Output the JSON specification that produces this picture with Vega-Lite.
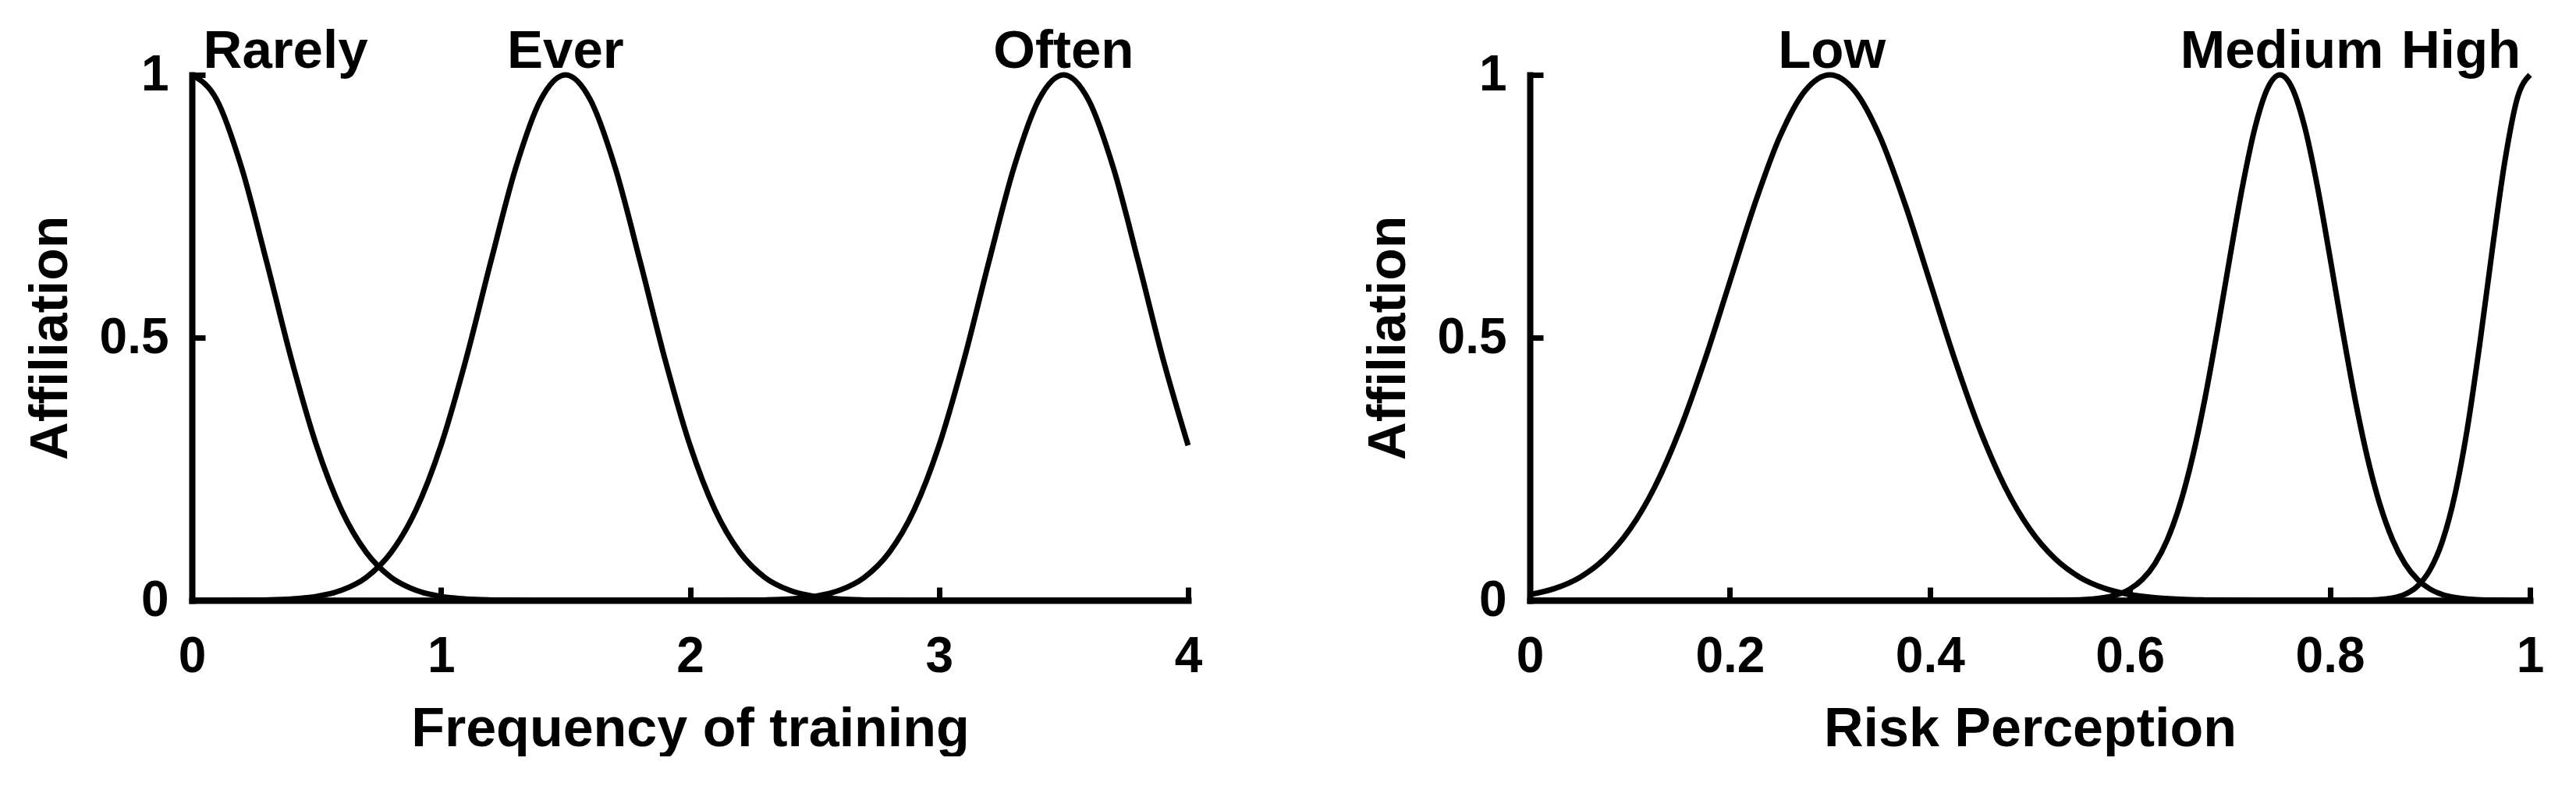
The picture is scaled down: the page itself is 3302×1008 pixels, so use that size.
{
  "$schema": "https://vega.github.io/schema/vega-lite/v6.json",
  "padding": {"left": 31, "top": 32, "right": 0, "bottom": 0},
  "background": "white",
  "config": {
    "view": {"stroke": null},
    "font": "Liberation Sans",
    "axis": {
      "domainColor": "black", "domainWidth": 8, "domainCap": "square",
      "tickColor": "black", "tickWidth": 7, "tickSize": -17,
      "labelFont": "Liberation Sans", "labelFontWeight": "bold",
      "labelFontSize": 64, "labelColor": "black",
      "titleFont": "Liberation Sans", "titleFontWeight": "bold", "titleColor": "black",
      "grid": false, "labelFlush": false, "labelOverlap": false
    },
    "axisX": {"labelPadding": 57, "titlePadding": 27, "titleFontSize": 70},
    "axisY": {"labelPadding": 47, "titlePadding": 28, "titleFontSize": 68}
  },
  "spacing": 205,
  "hconcat": [
    {
      "width": 1277, "height": 674,
      "layer": [
        {
          "data": {"values": [
            {"curve": "Rarely", "x": 0, "y": 1}, {"curve": "Rarely", "x": 0.1, "y": 0.9523}, {"curve": "Rarely", "x": 0.2, "y": 0.8226}, {"curve": "Rarely", "x": 0.3, "y": 0.6444}, {"curve": "Rarely", "x": 0.4, "y": 0.4578}, {"curve": "Rarely", "x": 0.5, "y": 0.295}, {"curve": "Rarely", "x": 0.6, "y": 0.1724}, {"curve": "Rarely", "x": 0.7, "y": 0.0914}, {"curve": "Rarely", "x": 0.8, "y": 0.0439}, {"curve": "Rarely", "x": 0.9, "y": 0.0192}, {"curve": "Rarely", "x": 1.0, "y": 0.0076}, {"curve": "Rarely", "x": 1.1, "y": 0.0027}, {"curve": "Rarely", "x": 1.2, "y": 0.0009}, {"curve": "Rarely", "x": 1.3, "y": 0.0003}, {"curve": "Rarely", "x": 1.5, "y": 0}, {"curve": "Rarely", "x": 2, "y": 0}, {"curve": "Rarely", "x": 3, "y": 0}, {"curve": "Rarely", "x": 4, "y": 0},
            {"curve": "Ever", "x": 0, "y": 0}, {"curve": "Ever", "x": 0.2, "y": 0.0003}, {"curve": "Ever", "x": 0.3, "y": 0.0009}, {"curve": "Ever", "x": 0.4, "y": 0.0027}, {"curve": "Ever", "x": 0.5, "y": 0.0076}, {"curve": "Ever", "x": 0.6, "y": 0.0192}, {"curve": "Ever", "x": 0.7, "y": 0.0439}, {"curve": "Ever", "x": 0.8, "y": 0.0914}, {"curve": "Ever", "x": 0.9, "y": 0.1724}, {"curve": "Ever", "x": 1.0, "y": 0.295}, {"curve": "Ever", "x": 1.1, "y": 0.4578}, {"curve": "Ever", "x": 1.2, "y": 0.6444}, {"curve": "Ever", "x": 1.3, "y": 0.8226}, {"curve": "Ever", "x": 1.4, "y": 0.9523}, {"curve": "Ever", "x": 1.5, "y": 1}, {"curve": "Ever", "x": 1.6, "y": 0.9523}, {"curve": "Ever", "x": 1.7, "y": 0.8226}, {"curve": "Ever", "x": 1.8, "y": 0.6444}, {"curve": "Ever", "x": 1.9, "y": 0.4578}, {"curve": "Ever", "x": 2.0, "y": 0.295}, {"curve": "Ever", "x": 2.1, "y": 0.1724}, {"curve": "Ever", "x": 2.2, "y": 0.0914}, {"curve": "Ever", "x": 2.3, "y": 0.0439}, {"curve": "Ever", "x": 2.4, "y": 0.0192}, {"curve": "Ever", "x": 2.5, "y": 0.0076}, {"curve": "Ever", "x": 2.6, "y": 0.0027}, {"curve": "Ever", "x": 2.7, "y": 0.0009}, {"curve": "Ever", "x": 2.8, "y": 0.0003}, {"curve": "Ever", "x": 3, "y": 0}, {"curve": "Ever", "x": 4, "y": 0},
            {"curve": "Often", "x": 0, "y": 0}, {"curve": "Often", "x": 2, "y": 0}, {"curve": "Often", "x": 2.2, "y": 0.0003}, {"curve": "Often", "x": 2.3, "y": 0.0009}, {"curve": "Often", "x": 2.4, "y": 0.0027}, {"curve": "Often", "x": 2.5, "y": 0.0076}, {"curve": "Often", "x": 2.6, "y": 0.0192}, {"curve": "Often", "x": 2.7, "y": 0.0439}, {"curve": "Often", "x": 2.8, "y": 0.0914}, {"curve": "Often", "x": 2.9, "y": 0.1724}, {"curve": "Often", "x": 3.0, "y": 0.295}, {"curve": "Often", "x": 3.1, "y": 0.4578}, {"curve": "Often", "x": 3.2, "y": 0.6444}, {"curve": "Often", "x": 3.3, "y": 0.8226}, {"curve": "Often", "x": 3.4, "y": 0.9523}, {"curve": "Often", "x": 3.5, "y": 1}, {"curve": "Often", "x": 3.6, "y": 0.9523}, {"curve": "Often", "x": 3.7, "y": 0.8226}, {"curve": "Often", "x": 3.8, "y": 0.6444}, {"curve": "Often", "x": 3.9, "y": 0.4578}, {"curve": "Often", "x": 4.0, "y": 0.295}
          ]},
          "mark": {"type": "line", "color": "black", "strokeWidth": 7, "interpolate": "monotone"},
          "encoding": {
            "x": {"field": "x", "type": "quantitative", "scale": {"domain": [0, 4], "nice": false, "zero": false},
                  "axis": {"values": [0, 1, 2, 3, 4], "format": "~g", "title": "Frequency of training"}},
            "y": {"field": "y", "type": "quantitative", "scale": {"domain": [0, 1], "nice": false},
                  "axis": {"values": [0, 0.5, 1], "format": "~g", "title": "Affiliation"}},
            "detail": {"field": "curve"}
          }
        },
        {
          "data": {"values": [
            {"label": "Rarely", "x": 0.376, "y": 1},
            {"label": "Ever", "x": 1.5, "y": 1},
            {"label": "Often", "x": 3.5, "y": 1}
          ]},
          "mark": {"type": "text", "fontSize": 69, "fontWeight": "bold", "font": "Liberation Sans", "baseline": "alphabetic", "dy": -9, "color": "black"},
          "encoding": {
            "x": {"field": "x", "type": "quantitative"},
            "y": {"field": "y", "type": "quantitative"},
            "text": {"field": "label"}
          }
        }
      ]
    },
    {
      "width": 1282, "height": 674,
      "layer": [
        {
          "data": {"values": [
            {"curve": "Low", "x": 0, "y": 0.0111}, {"curve": "Low", "x": 0.025, "y": 0.0228}, {"curve": "Low", "x": 0.05, "y": 0.0439}, {"curve": "Low", "x": 0.075, "y": 0.0796}, {"curve": "Low", "x": 0.1, "y": 0.1353}, {"curve": "Low", "x": 0.125, "y": 0.2163}, {"curve": "Low", "x": 0.15, "y": 0.3247}, {"curve": "Low", "x": 0.175, "y": 0.4578}, {"curve": "Low", "x": 0.2, "y": 0.6065}, {"curve": "Low", "x": 0.225, "y": 0.7548}, {"curve": "Low", "x": 0.25, "y": 0.8825}, {"curve": "Low", "x": 0.275, "y": 0.9692}, {"curve": "Low", "x": 0.3, "y": 1}, {"curve": "Low", "x": 0.325, "y": 0.9692}, {"curve": "Low", "x": 0.35, "y": 0.8825}, {"curve": "Low", "x": 0.375, "y": 0.7548}, {"curve": "Low", "x": 0.4, "y": 0.6065}, {"curve": "Low", "x": 0.425, "y": 0.4578}, {"curve": "Low", "x": 0.45, "y": 0.3247}, {"curve": "Low", "x": 0.475, "y": 0.2163}, {"curve": "Low", "x": 0.5, "y": 0.1353}, {"curve": "Low", "x": 0.525, "y": 0.0796}, {"curve": "Low", "x": 0.55, "y": 0.0439}, {"curve": "Low", "x": 0.575, "y": 0.0228}, {"curve": "Low", "x": 0.6, "y": 0.0111}, {"curve": "Low", "x": 0.625, "y": 0.0051}, {"curve": "Low", "x": 0.65, "y": 0.0022}, {"curve": "Low", "x": 0.675, "y": 0.0009}, {"curve": "Low", "x": 0.7, "y": 0.0003}, {"curve": "Low", "x": 0.75, "y": 0}, {"curve": "Low", "x": 1, "y": 0},
            {"curve": "Medium", "x": 0, "y": 0}, {"curve": "Medium", "x": 0.5, "y": 0}, {"curve": "Medium", "x": 0.55, "y": 0.0011}, {"curve": "Medium", "x": 0.5625, "y": 0.0025}, {"curve": "Medium", "x": 0.575, "y": 0.0055}, {"curve": "Medium", "x": 0.5875, "y": 0.0112}, {"curve": "Medium", "x": 0.6, "y": 0.0217}, {"curve": "Medium", "x": 0.6125, "y": 0.04}, {"curve": "Medium", "x": 0.625, "y": 0.07}, {"curve": "Medium", "x": 0.6375, "y": 0.116}, {"curve": "Medium", "x": 0.65, "y": 0.1823}, {"curve": "Medium", "x": 0.6625, "y": 0.2717}, {"curve": "Medium", "x": 0.675, "y": 0.3839}, {"curve": "Medium", "x": 0.6875, "y": 0.5144}, {"curve": "Medium", "x": 0.7, "y": 0.6534}, {"curve": "Medium", "x": 0.7125, "y": 0.7872}, {"curve": "Medium", "x": 0.725, "y": 0.8991}, {"curve": "Medium", "x": 0.7375, "y": 0.9738}, {"curve": "Medium", "x": 0.75, "y": 1}, {"curve": "Medium", "x": 0.7625, "y": 0.9738}, {"curve": "Medium", "x": 0.775, "y": 0.8991}, {"curve": "Medium", "x": 0.7875, "y": 0.7872}, {"curve": "Medium", "x": 0.8, "y": 0.6534}, {"curve": "Medium", "x": 0.8125, "y": 0.5144}, {"curve": "Medium", "x": 0.825, "y": 0.3839}, {"curve": "Medium", "x": 0.8375, "y": 0.2717}, {"curve": "Medium", "x": 0.85, "y": 0.1823}, {"curve": "Medium", "x": 0.8625, "y": 0.116}, {"curve": "Medium", "x": 0.875, "y": 0.07}, {"curve": "Medium", "x": 0.8875, "y": 0.04}, {"curve": "Medium", "x": 0.9, "y": 0.0217}, {"curve": "Medium", "x": 0.9125, "y": 0.0112}, {"curve": "Medium", "x": 0.925, "y": 0.0055}, {"curve": "Medium", "x": 0.9375, "y": 0.0025}, {"curve": "Medium", "x": 0.95, "y": 0.0011}, {"curve": "Medium", "x": 0.975, "y": 0.0002}, {"curve": "Medium", "x": 1, "y": 0},
            {"curve": "High", "x": 0, "y": 0}, {"curve": "High", "x": 0.75, "y": 0}, {"curve": "High", "x": 0.8, "y": 0}, {"curve": "High", "x": 0.825, "y": 0.0002}, {"curve": "High", "x": 0.85, "y": 0.0017}, {"curve": "High", "x": 0.8625, "y": 0.0046}, {"curve": "High", "x": 0.875, "y": 0.0117}, {"curve": "High", "x": 0.8875, "y": 0.0272}, {"curve": "High", "x": 0.9, "y": 0.058}, {"curve": "High", "x": 0.9125, "y": 0.113}, {"curve": "High", "x": 0.925, "y": 0.2015}, {"curve": "High", "x": 0.9375, "y": 0.3287}, {"curve": "High", "x": 0.95, "y": 0.4907}, {"curve": "High", "x": 0.9625, "y": 0.67}, {"curve": "High", "x": 0.975, "y": 0.8369}, {"curve": "High", "x": 0.9875, "y": 0.9565}, {"curve": "High", "x": 1, "y": 1}
          ]},
          "mark": {"type": "line", "color": "black", "strokeWidth": 7, "interpolate": "monotone"},
          "encoding": {
            "x": {"field": "x", "type": "quantitative", "scale": {"domain": [0, 1], "nice": false},
                  "axis": {"values": [0, 0.2, 0.4, 0.6, 0.8, 1], "format": "~g", "title": "Risk Perception"}},
            "y": {"field": "y", "type": "quantitative", "scale": {"domain": [0, 1], "nice": false},
                  "axis": {"values": [0, 0.5, 1], "format": "~g", "title": "Affiliation"}},
            "detail": {"field": "curve"}
          }
        },
        {
          "data": {"values": [
            {"label": "Low", "x": 0.302, "y": 1},
            {"label": "Medium", "x": 0.752, "y": 1},
            {"label": "High", "x": 0.931, "y": 1}
          ]},
          "mark": {"type": "text", "fontSize": 69, "fontWeight": "bold", "font": "Liberation Sans", "baseline": "alphabetic", "dy": -9, "color": "black"},
          "encoding": {
            "x": {"field": "x", "type": "quantitative"},
            "y": {"field": "y", "type": "quantitative"},
            "text": {"field": "label"}
          }
        }
      ]
    }
  ]
}
